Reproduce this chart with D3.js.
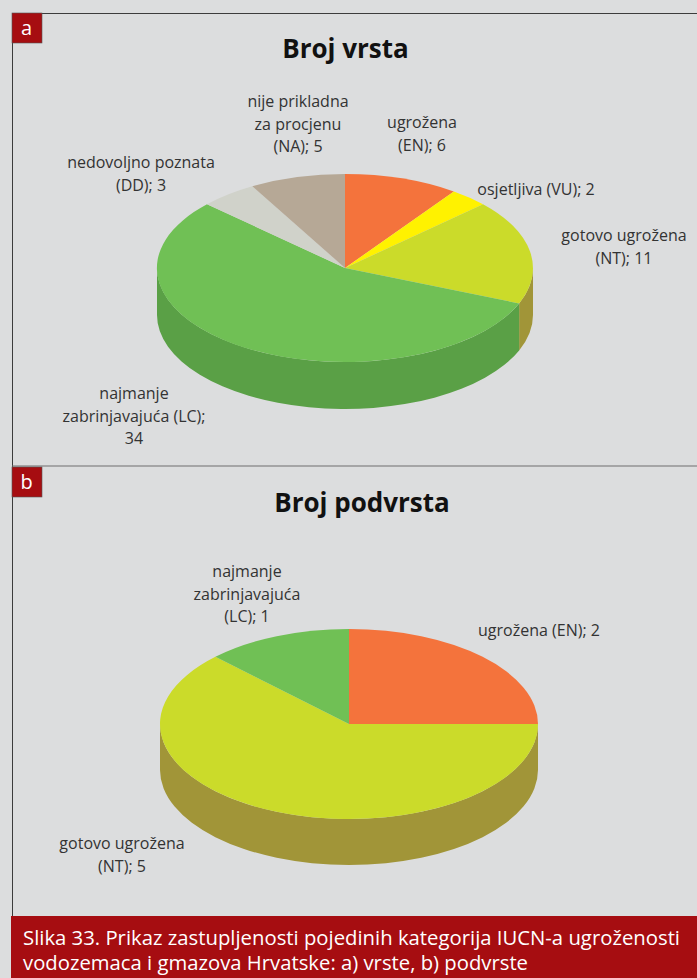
<!DOCTYPE html>
<html lang="hr">
<head>
  <meta charset="UTF-8">
  <title>Slika 33</title>
  <script src="https://d3js.org/d3.v7.min.js"></script>
  <style>
    html, body { margin: 0; padding: 0; background: #dcddde; overflow: hidden; }
    svg { display: block; }
    text { font-family: "Open Sans", "Noto Sans", sans-serif; }
    .lbl { font-size: 16px; fill: #333; text-anchor: middle; }
    .ttl { font-size: 26px; font-weight: 700; fill: #111; text-anchor: middle; }
  </style>
</head>
<body>
  <svg id="chart" width="697" height="978"></svg>
  <script>
    // Data
    const speciesCategories = ["EN", "VU", "NT", "LC", "DD", "NA"];
    const speciesValues = [6, 2, 11, 34, 3, 5];
    const speciesLabels = [
      ["ugrožena", "(EN); 6"],
      ["osjetljiva (VU); 2"],
      ["gotovo ugrožena", "(NT); 11"],
      ["najmanje", "zabrinjavajuća (LC);", "34"],
      ["nedovoljno poznata", "(DD); 3"],
      ["nije prikladna", "za procjenu", "(NA); 5"]
    ];
    const subspeciesCategories = ["EN", "NT", "LC"];
    const subspeciesValues = [2, 5, 1];
    const subspeciesLabels = [
      ["ugrožena (EN); 2"],
      ["gotovo ugrožena", "(NT); 5"],
      ["najmanje", "zabrinjavajuća", "(LC); 1"]
    ];
    const captionLines = [
      "Slika 33. Prikaz zastupljenosti pojedinih kategorija IUCN-a ugroženosti",
      "vodozemaca i gmazova Hrvatske: a) vrste, b) podvrste"
    ];

    const color = d3.scaleOrdinal()
      .domain(["EN", "VU", "NT", "LC", "DD", "NA"])
      .range(["#f4733c", "#fff200", "#cbdb2a", "#70c055", "#d0d2ca", "#b6a896"]);
    const sideColor = d3.scaleOrdinal()
      .domain(["EN", "VU", "NT", "LC", "DD", "NA"])
      .range(["#b8562c", "#bfb500", "#a19538", "#5aa046", "#9c9e98", "#887e70"]);

    const svg = d3.select("#chart");
    const red = "#a60d11";

    // frame
    svg.append("path").attr("d", "M697,13.5H12.5V916").attr("fill", "none").attr("stroke", "#3c3c3c").attr("stroke-width", 1);
    svg.append("path").attr("d", "M12,466H697").attr("fill", "none").attr("stroke", "#6e6e6e").attr("stroke-width", 1.2);

    const drawBadge = (letter, y) => {
      svg.append("rect").attr("x", 12).attr("y", y).attr("width", 30).attr("height", 30)
        .attr("fill", red).attr("stroke", "#555").attr("stroke-width", 0.6);
      svg.append("text").attr("x", 26.5).attr("y", y + 22).attr("text-anchor", "middle")
        .attr("fill", "#fff").style("font-size", "20px").text(letter);
    };

    // 3D-looking pie: a unit d3.arc squashed into an ellipse, walls below it
    const drawPie = ({ cats, values, labels, cx, cy, rx, ry, depth, title, titleX, titleY, labelPos }) => {
      const g = svg.append("g");
      const pie = d3.pie().sort(null).value(d => d.value);
      const arcs = pie(cats.map((c, i) => ({ cat: c, value: values[i], label: labels[i] })));

      const px = a => cx + rx * Math.sin(a);
      const py = a => cy - ry * Math.cos(a);

      // walls, only the part of each slice on the front half
      arcs.forEach(d => {
        const a0 = Math.max(d.startAngle, Math.PI / 2);
        const a1 = Math.min(d.endAngle, Math.PI * 3 / 2);
        if (a1 <= a0) return;
        const p = `M${px(a0)},${py(a0)}` +
          `A${rx},${ry} 0 0 1 ${px(a1)},${py(a1)}` +
          `L${px(a1)},${py(a1) + depth}` +
          `A${rx},${ry} 0 0 0 ${px(a0)},${py(a0) + depth}Z`;
        g.append("path").attr("d", p).attr("fill", sideColor(d.data.cat));
      });

      const arc = d3.arc().innerRadius(0).outerRadius(1);
      g.append("g")
        .attr("transform", `translate(${cx},${cy}) scale(${rx},${ry})`)
        .selectAll("path")
        .data(arcs)
        .join("path")
        .attr("d", arc)
        .attr("fill", d => color(d.data.cat));

      g.append("text").attr("class", "ttl").attr("x", titleX).attr("y", titleY).text(title);

      arcs.forEach((d, i) => {
        const [lx, ly] = labelPos[i];
        d.data.label.forEach((line, k) => {
          g.append("text").attr("class", "lbl")
            .attr("x", lx).attr("y", ly + k * 22.6).text(line);
        });
      });
    };

    drawPie({
      cats: speciesCategories, values: speciesValues, labels: speciesLabels,
      cx: 345, cy: 268, rx: 188, ry: 94, depth: 47,
      title: "Broj vrsta", titleX: 345.5, titleY: 58,
      labelPos: [[422, 128], [536, 195], [624, 241], [134, 399], [141, 168], [298, 107]]
    });
    drawPie({
      cats: subspeciesCategories, values: subspeciesValues, labels: subspeciesLabels,
      cx: 349, cy: 724, rx: 189, ry: 95, depth: 46,
      title: "Broj podvrsta", titleX: 362, titleY: 512,
      labelPos: [[539, 636], [122, 849], [247, 577]]
    });

    drawBadge("a", 13);
    drawBadge("b", 467);

    // caption band
    svg.append("rect").attr("x", 11).attr("y", 916).attr("width", 686).attr("height", 62).attr("fill", red);
    captionLines.forEach((line, i) => {
      svg.append("text").attr("x", 23).attr("y", 945 + i * 25)
        .attr("fill", "#fff").style("font-size", "19.5px")
        .attr("textLength", i === 0 ? 657 : 505).attr("lengthAdjust", "spacingAndGlyphs")
        .text(line);
    });
  </script>
</body>
</html>
